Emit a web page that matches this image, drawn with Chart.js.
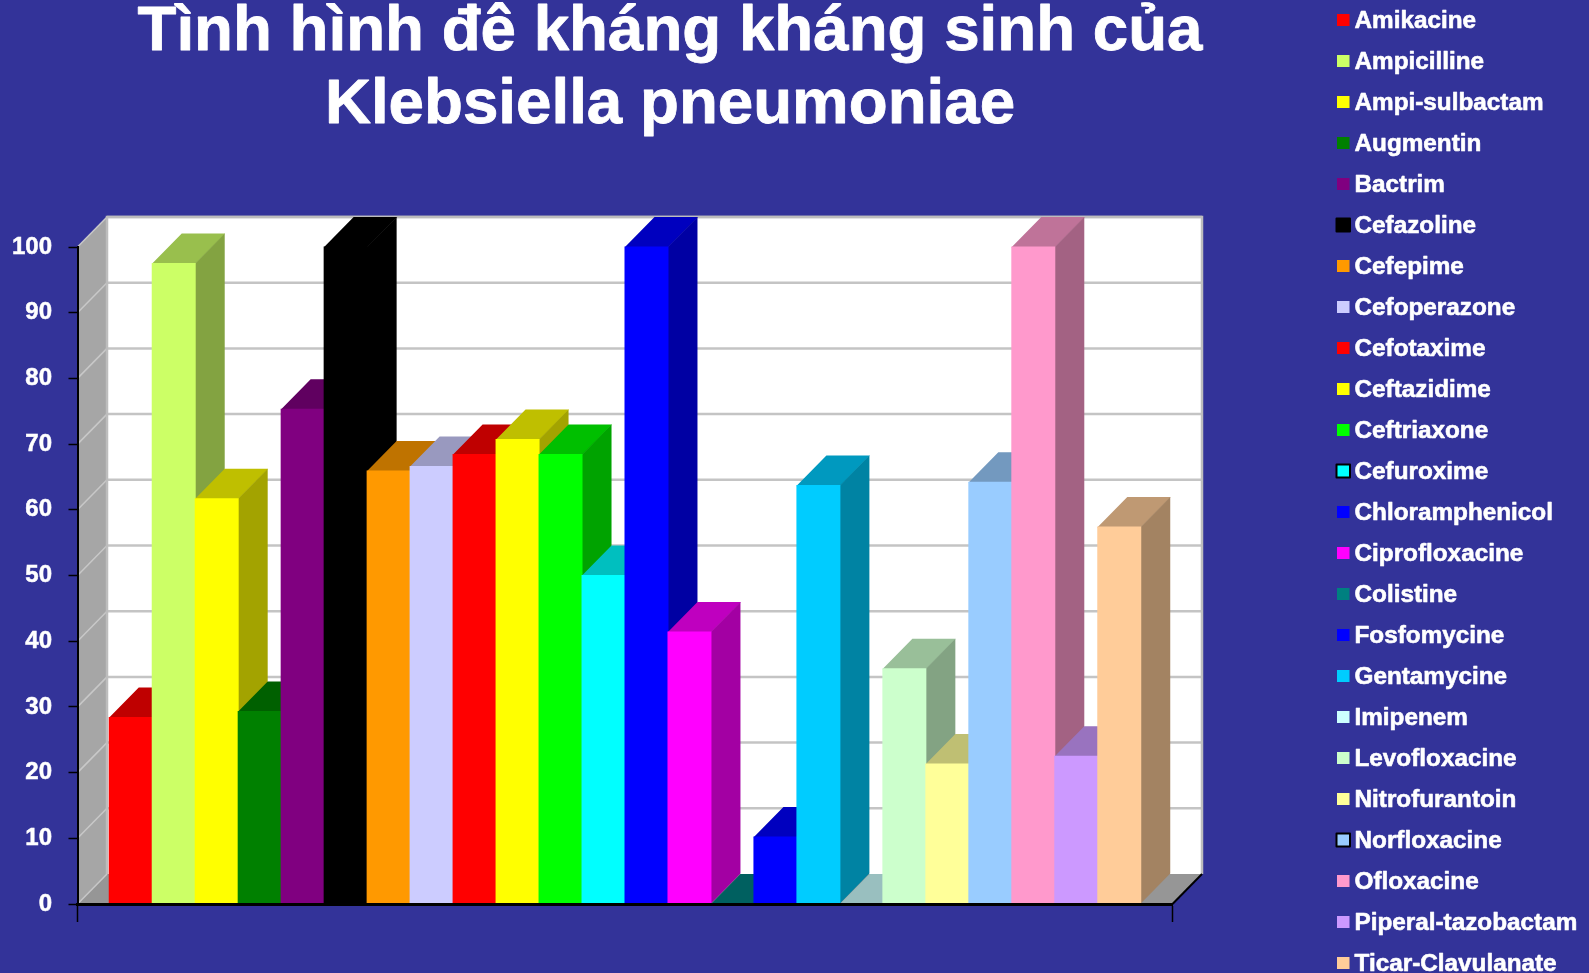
<!DOCTYPE html>
<html lang="vi">
<head>
<meta charset="utf-8">
<title>Tình hình đề kháng kháng sinh của Klebsiella pneumoniae</title>
<script src="https://cdn.jsdelivr.net/npm/chart.js@4"></script>
<style>
  html, body { margin: 0; padding: 0; background: #333399; overflow: hidden; }
  #wrap { position: relative; width: 1589px; height: 973px; }
  canvas { display: block; }
</style>
</head>
<body>
<div id="wrap"><canvas id="chart" width="1589" height="973"></canvas></div>
<script>
// Resistance rates (%) per antibiotic
const titleLines = ['Tình hình đê kháng kháng sinh của', 'Klebsiella pneumoniae'];
const categories = [''];
const antibiotics = [
  'Amikacine', 'Ampicilline', 'Ampi-sulbactam', 'Augmentin', 'Bactrim', 'Cefazoline',
  'Cefepime', 'Cefoperazone', 'Cefotaxime', 'Ceftazidime', 'Ceftriaxone', 'Cefuroxime',
  'Chloramphenicol', 'Ciprofloxacine', 'Colistine', 'Fosfomycine', 'Gentamycine', 'Imipenem',
  'Levofloxacine', 'Nitrofurantoin', 'Norfloxacine', 'Ofloxacine', 'Piperal-tazobactam', 'Ticar-Clavulanate'
];
const resistance = [
  28.4, 97.5, 61.7, 29.3, 75.3, 100,
  65.9, 66.6, 68.4, 70.7, 68.4, 50,
  100, 41.4, 0, 10.2, 63.7, 0,
  35.8, 21.3, 64.2, 100, 22.5, 57.4
];
const barColors = [
  '#FF0000', '#CCFF66', '#FFFF00', '#008000', '#800080', '#000000',
  '#FF9900', '#CCCCFF', '#FF0000', '#FFFF00', '#00FF00', '#00FFFF',
  '#0000FF', '#FF00FF', '#008080', '#0000FF', '#00CCFF', '#CCFFFF',
  '#CCFFCC', '#FFFF99', '#99CCFF', '#FF99CC', '#CC99FF', '#FFCC99'
];
const outlinedKeys = ['Cefazoline', 'Cefuroxime', 'Norfloxacine'];
const yTicks = [0, 10, 20, 30, 40, 50, 60, 70, 80, 90, 100];

const FONT = '"Liberation Sans", Arial, sans-serif';
const DEPTH_X = 29.5;
const DEPTH_Y = 30;

function shade(hex, factor) {
  const n = parseInt(hex.slice(1), 16);
  const c = [(n >> 16) & 255, (n >> 8) & 255, n & 255].map(v => Math.round(v * factor));
  return `rgb(${c[0]},${c[1]},${c[2]})`;
}

function poly(ctx, pts, fill) {
  ctx.beginPath();
  pts.forEach((p, i) => i ? ctx.lineTo(p[0], p[1]) : ctx.moveTo(p[0], p[1]));
  ctx.closePath();
  ctx.fillStyle = fill;
  ctx.fill();
}

function boldText(ctx, text, x, y, weight) {
  ctx.lineWidth = weight;
  ctx.strokeStyle = '#FFFFFF';
  ctx.lineJoin = 'round';
  ctx.strokeText(text, x, y);
  ctx.fillStyle = '#FFFFFF';
  ctx.fillText(text, x, y);
}

// Side wall, floor and back wall of the 3D box, positioned from the scales
const box3d = {
  id: 'box3d',
  beforeDraw(chart) {
    const { ctx, chartArea: a, scales: { y } } = chart;
    ctx.save();
    ctx.fillStyle = '#333399';
    ctx.fillRect(0, 0, chart.width, chart.height);

    const backL = a.left + DEPTH_X, backR = a.right + DEPTH_X;
    const backT = a.top - DEPTH_Y, backB = a.bottom - DEPTH_Y;

    poly(ctx, [[backL, backT], [backR, backT], [backR, backB], [backL, backB]], '#FFFFFF');
    poly(ctx, [[a.left, a.top], [backL, backT], [backL, backB], [a.left, a.bottom]], '#A6A6A6');
    poly(ctx, [[a.left, a.bottom], [backL, backB], [backR, backB], [a.right, a.bottom]], '#969696');

    ctx.lineCap = 'butt';
    yTicks.forEach(v => {
      const py = y.getPixelForValue(v);
      ctx.strokeStyle = '#C8C8C8';
      ctx.lineWidth = 1.5;
      ctx.beginPath();
      ctx.moveTo(a.left, py);
      ctx.lineTo(backL, py - DEPTH_Y);
      ctx.stroke();
      if (v > 0) {
        ctx.lineWidth = 2.5;
        ctx.strokeStyle = '#C4C4C4';
        ctx.beginPath();
        ctx.moveTo(backL, py - DEPTH_Y);
        ctx.lineTo(backR, py - DEPTH_Y);
        ctx.stroke();
      }
    });

    ctx.strokeStyle = '#BDBDBD';
    ctx.lineWidth = 2.5;
    ctx.beginPath();
    ctx.moveTo(backL, backB);
    ctx.lineTo(backL, backT);
    ctx.lineTo(backR, backT);
    ctx.lineTo(backR, backB);
    ctx.stroke();

    ctx.strokeStyle = '#000000';
    ctx.lineWidth = 2;
    ctx.beginPath();
    ctx.moveTo(a.right, a.bottom);
    ctx.lineTo(backR, backB);
    ctx.stroke();
    ctx.restore();
  },
  // Bars are painted left to right so nearer faces hide the sides of earlier ones.
  // Top and side faces run slightly under their neighbours to avoid hairline seams.
  beforeDatasetsDraw(chart) {
    const { ctx, chartArea: a } = chart;
    ctx.save();
    chart.data.datasets.forEach((ds, i) => {
      const bar = chart.getDatasetMeta(i).data[0];
      const { x, y: top, width, base } = bar.getProps(['x', 'y', 'width', 'base'], true);
      const l = x - width / 2, r = x + width / 2;
      const color = ds.backgroundColor;
      poly(ctx, [[l, top + 1], [l, top], [l + DEPTH_X, top - DEPTH_Y], [r + DEPTH_X + 0.5, top - DEPTH_Y], [r + 0.5, top], [r + 0.5, top + 1]], shade(color, 0.75));
      poly(ctx, [[r - 1, top], [r, top], [r + DEPTH_X, top - DEPTH_Y], [r + DEPTH_X, base - DEPTH_Y], [r, base], [r - 1, base]], shade(color, 0.64));
      bar.draw(ctx, a);
    });
    ctx.restore();
    return false;
  }
};

// Chart heading and the antibiotic key down the right-hand side
const captions = {
  id: 'captions',
  afterDraw(chart) {
    const { ctx } = chart;
    ctx.save();
    ctx.textBaseline = 'alphabetic';

    ctx.font = `bold 63.7px ${FONT}`;
    ctx.textAlign = 'center';
    titleLines.forEach((line, i) => boldText(ctx, line, 670, 50 + i * 73, 0.8));

    ctx.textAlign = 'left';
    ctx.font = `bold 24.3px ${FONT}`;
    chart.data.datasets.forEach((ds, i) => {
      const cy = 20 + i * 41;
      ctx.fillStyle = ds.backgroundColor;
      ctx.fillRect(1337, cy - 6, 12.5, 12);
      if (outlinedKeys.includes(ds.label)) {
        ctx.strokeStyle = '#000000';
        ctx.lineWidth = 2;
        ctx.strokeRect(1336.5, cy - 6.5, 13.5, 13);
      }
      boldText(ctx, ds.label, 1354.5, cy + 8, 0.6);
    });
    ctx.restore();
  }
};

new Chart(document.getElementById('chart'), {
  type: 'bar',
  data: {
    labels: categories,
    datasets: antibiotics.map((name, i) => ({
      label: name,
      data: [resistance[i]],
      backgroundColor: barColors[i],
      borderWidth: 0,
      inflateAmount: 0.5
    }))
  },
  options: {
    responsive: false,
    animation: false,
    categoryPercentage: 0.942,
    barPercentage: 1,
    layout: { padding: { top: 247, right: 416.5, bottom: 0, left: 0 } },
    plugins: { legend: { display: false }, title: { display: false }, tooltip: { enabled: false } },
    scales: {
      x: {
        afterFit(scale) { scale.height = 69; },
        grid: { drawOnChartArea: false, drawTicks: true, tickLength: 18, tickColor: '#000000', tickWidth: 1.5 },
        border: { color: '#000000', width: 3, z: 1 },
        ticks: { display: false }
      },
      y: {
        min: 0,
        max: 100,
        afterFit(scale) { scale.width = 77.5; },
        afterBuildTicks(scale) { scale.ticks = yTicks.map(value => ({ value })); },
        grid: { drawOnChartArea: false, drawTicks: true, tickLength: 9, tickColor: '#000000', tickWidth: 1.5 },
        border: { color: '#000000', width: 2, z: 1 },
        ticks: {
          color: '#FFFFFF', padding: 16.5, textStrokeColor: '#FFFFFF', textStrokeWidth: 0.5,
          font: { family: FONT, size: 24, weight: 'bold' }
        }
      }
    }
  },
  plugins: [box3d, captions]
});
</script>
</body>
</html>
